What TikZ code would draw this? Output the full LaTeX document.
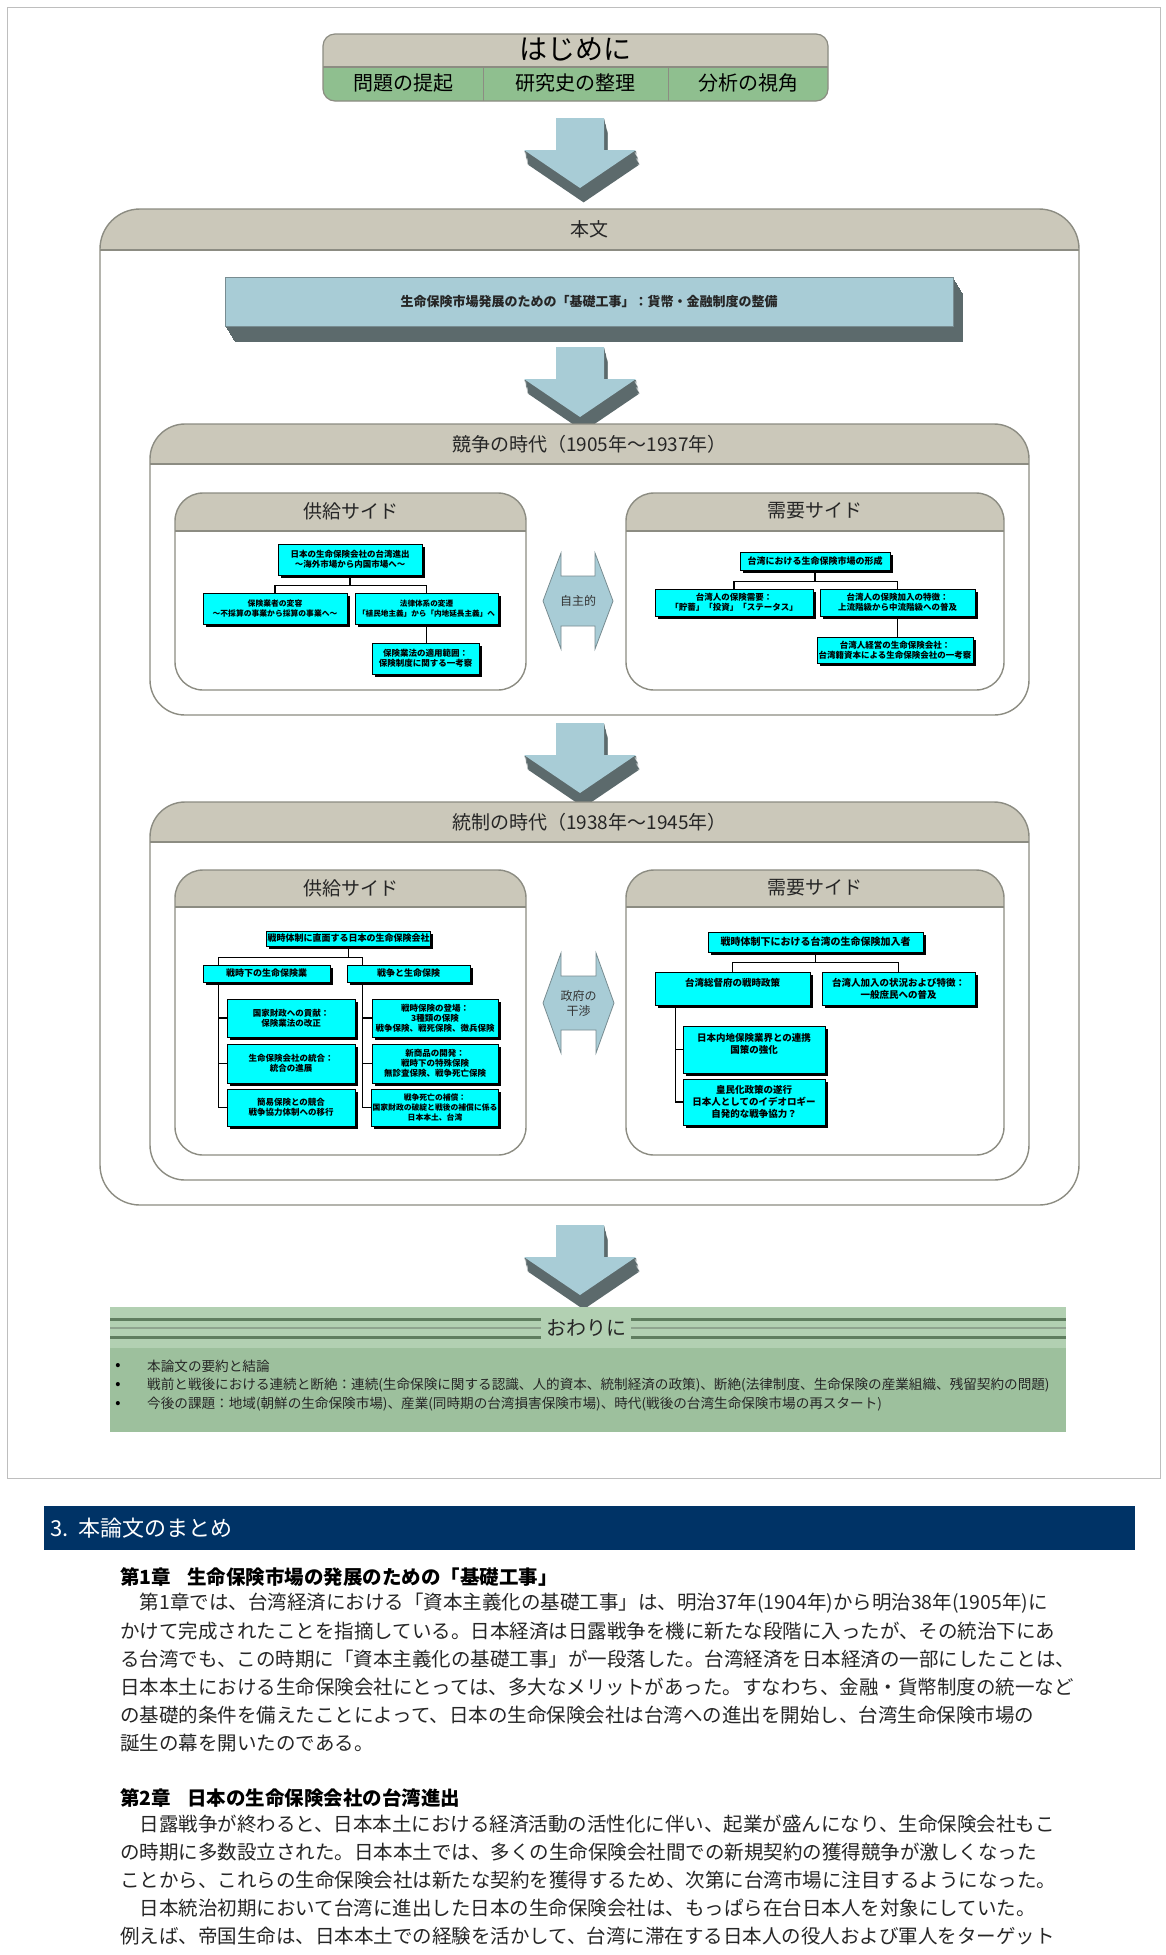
\documentclass[tikz,border=0pt]{standalone}
\usepackage{fontspec}
\setmainfont{Noto Sans CJK JP}
\usetikzlibrary{shadows}
\definecolor{boxgray}{RGB}{140,140,130}
\definecolor{hdrfill}{RGB}{203,200,186}
\definecolor{hajgreen}{RGB}{143,191,143}
\definecolor{arrblue}{RGB}{168,204,214}
\definecolor{arrout}{RGB}{120,140,145}
\definecolor{arrdark}{RGB}{92,106,108}
\definecolor{cyanfill}{RGB}{0,255,255}
\definecolor{owlight}{RGB}{178,208,178}
\definecolor{owgreen}{RGB}{157,192,157}
\definecolor{owline}{RGB}{95,125,95}
\definecolor{navy}{RGB}{0,51,102}
\definecolor{framegray}{RGB}{190,190,190}
\newcommand{\blockarrow}[2]{%
 \begin{scope}[shift={(#1,#2)}]
  \foreach \k in {1,...,12}{%
   \fill[arrdark] ({0.3*\k-24},{1.2*\k}) -- ({0.3*\k+24},{1.2*\k}) -- ({0.3*\k+24},{1.2*\k+32}) -- ({0.3*\k+56},{1.2*\k+32}) -- ({0.3*\k},{1.2*\k+70}) -- ({0.3*\k-56},{1.2*\k+32}) -- ({0.3*\k-24},{1.2*\k+32}) -- cycle;}
  \fill[arrblue] (-24,0) -- (24,0) -- (24,32) -- (56,32) -- (0,70) -- (-56,32) -- (-24,32) -- cycle;
 \end{scope}}
\begin{document}
\begin{tikzpicture}[x=1pt,y=-1pt,
  secbox/.style={draw=boxgray, line width=1.4pt, fill=white, inner sep=0pt},
  hdrband/.style={path picture={
     \fill[hdrfill, sharp corners] (path picture bounding box.north west) rectangle ([yshift=-#1]path picture bounding box.north east);
     \draw[boxgray, line width=1.4pt, sharp corners] ([yshift=-#1]path picture bounding box.north west) -- ([yshift=-#1]path picture bounding box.north east);}},
  hdrtext/.style={font=\fontsize{19}{22}\selectfont, text=black!85, inner sep=0pt},
  cbox/.style={draw=black, line width=1pt, fill=cyanfill, inner sep=1pt, align=center, font=\bfseries\fontsize{8.5}{10}\selectfont, drop shadow={shadow xshift=2.5pt, shadow yshift=-2.5pt, fill=black, opacity=1}},
  conn/.style={draw=black, line width=1.1pt},
  dblarrow/.style={fill=arrblue, draw=arrout, line width=0.8pt},
  bodytext/.style={anchor=west, inner sep=0pt, font=\fontsize{19.5}{22}\selectfont, text=black!85},
  chaphead/.style={anchor=west, inner sep=0pt, font=\bfseries\fontsize{19.5}{22}\selectfont, text=black},
  bullettext/.style={anchor=west, inner sep=0pt, font=\fontsize{13.6}{15}\selectfont, text=black!85},
  bulletdot/.style={inner sep=0pt, font=\bfseries\fontsize{13}{14}\selectfont}
]
\useasboundingbox (0,0) rectangle (1166,1955);
\fill[white] (0,0) rectangle (1166,1955);
\draw[framegray, line width=1pt] (7,7) rectangle (1160,1478);

% はじめに
\node[draw=boxgray, line width=1.2pt, rounded corners=12pt, fill=hajgreen, inner sep=0pt,
      minimum width=505pt, minimum height=67pt, hdrband=33pt] (hajime) at (575.5,67.5) {};
\draw[boxgray, line width=1pt] (483,67) -- (483,101) (668,67) -- (668,101);
\node[inner sep=0pt, font=\fontsize{28}{30}\selectfont] (hajimeT) at (575.5,49) {はじめに};
\node[inner sep=0pt, font=\fontsize{20}{22}\selectfont] (haj1) at (403,83) {問題の提起};
\node[inner sep=0pt, font=\fontsize{20}{22}\selectfont] (haj2) at (575.5,83) {研究史の整理};
\node[inner sep=0pt, font=\fontsize{20}{22}\selectfont] (haj3) at (748,83) {分析の視角};

\blockarrow{580}{118}

% 本文
\node[secbox, rounded corners=40pt, hdrband=41pt, minimum width=979pt, minimum height=996pt] (honbun) at (589.5,707) {};
\node[hdrtext] (honbunT) at (589.5,229) {本文};

% bar
\foreach \k in {1,...,16}{\fill[arrdark] ({225+0.6*\k},{277+\k}) rectangle ({953+0.6*\k},{326+\k});}
\node[fill=arrblue, draw=arrout, line width=0.6pt, minimum width=728pt, minimum height=49pt, inner sep=0pt,
      font=\bfseries\fontsize{13}{15}\selectfont, text=black!85] (kiso) at (589,301.5) {生命保険市場発展のための「基礎工事」：貨幣・金融制度の整備};

\blockarrow{580}{347}

% 競争の時代
\node[secbox, rounded corners=35pt, hdrband=40pt, minimum width=879pt, minimum height=291pt] (kyoso) at (589.5,569.5) {};
\node[hdrtext] (kyosoT) at (589.5,444) {競争の時代（1905年～1937年）};
\node[secbox, rounded corners=28pt, hdrband=38pt, minimum width=351pt, minimum height=197pt] (kyS) at (350.5,591.5) {};
\node[hdrtext] (kySt) at (350.5,511) {供給サイド};
\node[secbox, rounded corners=28pt, hdrband=38pt, minimum width=378pt, minimum height=197pt] (kyD) at (815,591.5) {};
\node[hdrtext] (kyDt) at (815,511) {需要サイド};

% supply (competition)
\node[cbox, minimum width=144pt, minimum height=31pt] (s1top) at (350,559.5) {日本の生命保険会社の台湾進出\\～海外市場から内国市場へ～};
\node[cbox, font=\bfseries\fontsize{7.8}{10}\selectfont, minimum width=144pt, minimum height=31pt] (s1L) at (275,608.5) {保険業者の変容\\～不採算の事業から採算の事業へ～};
\node[cbox, font=\bfseries\fontsize{7.6}{10}\selectfont, minimum width=143pt, minimum height=31pt] (s1R) at (426.5,608.5) {法律体系の変遷\\「植民地主義」から「内地延長主義」へ};
\node[cbox, minimum width=107pt, minimum height=31pt] (s1B) at (425.5,658.5) {保険業法の適用範囲：\\保険制度に関する一考察};
\draw[conn] (s1top.south) -- ++(0,10) -| (s1L.north);
\draw[conn] (s1top.south) -- ++(0,10) -| (s1R.north);
\draw[conn] (s1R.south) -- (s1R.south |- s1B.north);

% demand (competition)
\node[cbox, font=\bfseries\fontsize{9}{10}\selectfont, minimum width=150pt, minimum height=18pt] (d1top) at (815,561) {台湾における生命保険市場の形成};
\node[cbox, minimum width=158pt, minimum height=27pt] (d1L) at (734,602.5) {台湾人の保険需要：\\「貯蓄」「投資」「ステータス」};
\node[cbox, minimum width=155pt, minimum height=27pt] (d1R) at (897.5,602.5) {台湾人の保険加入の特徴：\\上流階級から中流階級への普及};
\node[cbox, minimum width=156pt, minimum height=26pt] (d1B) at (895,650) {台湾人経営の生命保険会社：\\台湾籍資本による生命保険会社の一考察};
\draw[conn] (d1top.south) -- ++(0,11) -| (d1L.north);
\draw[conn] (d1top.south) -- ++(0,11) -| (d1R.north);
\draw[conn] (d1R.south) -- (d1R.south |- d1B.north);

% 自主的
\path[dblarrow] (543,601) -- (561,553) -- (561,576) -- (595,576) -- (595,553) -- (613,601) -- (595,649) -- (595,626) -- (561,626) -- (561,649) -- cycle;
\node[inner sep=0pt, font=\fontsize{12}{14}\selectfont, text=black!80] (jishu) at (578,601) {自主的};

\blockarrow{580}{723}

% 統制の時代
\node[secbox, rounded corners=35pt, hdrband=40pt, minimum width=879pt, minimum height=378pt] (tosei) at (589.5,991) {};
\node[hdrtext] (toseiT) at (589.5,822) {統制の時代（1938年～1945年）};
\node[secbox, rounded corners=28pt, hdrband=37pt, minimum width=351pt, minimum height=285pt] (toS) at (350.5,1012.5) {};
\node[hdrtext] (toSt) at (350.5,888) {供給サイド};
\node[secbox, rounded corners=28pt, hdrband=37pt, minimum width=378pt, minimum height=285pt] (toD) at (815,1012.5) {};
\node[hdrtext] (toDt) at (815,888) {需要サイド};

% supply (control)
\node[cbox, font=\bfseries\fontsize{9}{10}\selectfont, minimum width=163pt, minimum height=15pt] (c2top) at (348.5,938.5) {戦時体制に直面する日本の生命保険会社};
\node[cbox, font=\bfseries\fontsize{9}{10}\selectfont, minimum width=127pt, minimum height=17pt] (c2L) at (266.5,973.5) {戦時下の生命保険業};
\node[cbox, font=\bfseries\fontsize{9}{10}\selectfont, minimum width=123pt, minimum height=17pt] (c2R) at (408.5,973.5) {戦争と生命保険};
\node[cbox, minimum width=128pt, minimum height=38pt] (c2L1) at (291,1018) {国家財政への貢献：\\保険業法の改正};
\node[cbox, minimum width=128pt, minimum height=39pt] (c2L2) at (291,1063.5) {生命保険会社の統合：\\統合の進展};
\node[cbox, minimum width=128pt, minimum height=37pt] (c2L3) at (291,1107.5) {簡易保険との競合\\戦争協力体制への移行};
\node[cbox, minimum width=126pt, minimum height=38pt] (c2R1) at (435,1018) {戦時保険の登場：\\3種類の保険\\戦争保険、戦死保険、徴兵保険};
\node[cbox, minimum width=126pt, minimum height=39pt] (c2R2) at (435,1063.5) {新商品の開発：\\戦時下の特殊保険\\無診査保険、戦争死亡保険};
\node[cbox, font=\bfseries\fontsize{7.8}{10}\selectfont, minimum width=126pt, minimum height=37pt] (c2R3) at (435,1107.5) {戦争死亡の補償：\\国家財政の破綻と戦後の補償に係る\\日本本土、台湾};
\draw[conn] (c2top.south) -- ++(0,11) -| ([xshift=16pt]c2L.north west);
\draw[conn] (c2top.south) -- ++(0,11) -| ([xshift=16pt]c2R.north west);
\draw[conn] ([xshift=16pt]c2L.south west) |- (c2L1.west);
\draw[conn] ([xshift=16pt]c2L.south west) |- (c2L2.west);
\draw[conn] ([xshift=16pt]c2L.south west) |- (c2L3.west);
\draw[conn] ([xshift=16pt]c2R.south west) |- (c2R1.west);
\draw[conn] ([xshift=16pt]c2R.south west) |- (c2R2.west);
\draw[conn] ([xshift=16pt]c2R.south west) |- (c2R3.west);

% demand (control)
\node[cbox, font=\bfseries\fontsize{10}{12}\selectfont, minimum width=215pt, minimum height=20pt] (c3top) at (815.5,942) {戦時体制下における台湾の生命保険加入者};
\node[cbox, font=\bfseries\fontsize{9.5}{12}\selectfont, minimum width=155pt, minimum height=33pt] (c3L) at (732.5,988.5) {台湾総督府の戦時政策\\\mbox{}};
\node[cbox, font=\bfseries\fontsize{9.5}{12}\selectfont, minimum width=153pt, minimum height=33pt] (c3R) at (898.5,988.5) {台湾人加入の状況および特徴：\\一般庶民への普及};
\node[cbox, font=\bfseries\fontsize{9.5}{12}\selectfont, minimum width=142pt, minimum height=47pt] (c3L1) at (754,1049.5) {日本内地保険業界との連携\\国策の強化\\\mbox{}};
\node[cbox, font=\bfseries\fontsize{9.5}{12}\selectfont, minimum width=142pt, minimum height=46pt] (c3L2) at (754,1102) {皇民化政策の遂行\\日本人としてのイデオロギー\\自発的な戦争協力？};
\draw[conn] (c3top.south) -- ++(0,10) -| (c3L.north);
\draw[conn] (c3top.south) -- ++(0,10) -| (c3R.north);
\draw[conn] ([xshift=21pt]c3L.south west) |- (c3L1.west);
\draw[conn] ([xshift=21pt]c3L.south west) |- (c3L2.west);

% 政府の干渉
\path[dblarrow] (543,1003) -- (561,953) -- (561,976) -- (596,976) -- (596,953) -- (614,1003) -- (596,1053) -- (596,1030) -- (561,1030) -- (561,1053) -- cycle;
\node[inner sep=0pt, align=center, font=\fontsize{12}{15}\selectfont, text=black!80] (seifu) at (578.5,1003) {政府の\\干渉};

\blockarrow{580}{1225}

% おわりに
\node[fill=owgreen, inner sep=0pt, minimum width=956pt, minimum height=125pt] (owari) at (588,1369.5) {};
\fill[owlight] (110,1307) rectangle (1066,1348);
\draw[owline, line width=3pt] (110,1319) -- (1066,1319);
\draw[owline!70, line width=2pt] (110,1328) -- (1066,1328);
\draw[owline, line width=3pt] (110,1337) -- (1066,1337);
\node[fill=owlight, inner xsep=5pt, inner ysep=2pt, font=\fontsize{20}{22}\selectfont, text=black!85] (owariT) at (586,1328) {おわりに};
\node[bulletdot] (b1d) at (118,1366) {•};
\node[bulletdot] (b2d) at (118,1385) {•};
\node[bulletdot] (b3d) at (118,1404) {•};
\node[bullettext] (b1) at (147,1366) {本論文の要約と結論};
\node[bullettext] (b2) at (147,1385) {戦前と戦後における連続と断絶：連続(生命保険に関する認識、人的資本、統制経済の政策)、断絶(法律制度、生命保険の産業組織、残留契約の問題)};
\node[bullettext] (b3) at (147,1404) {今後の課題：地域(朝鮮の生命保険市場)、産業(同時期の台湾損害保険市場)、時代(戦後の台湾生命保険市場の再スタート)};

% Section 3
\node[fill=navy, inner sep=0pt, minimum width=1091pt, minimum height=44pt] (secbar) at (589.5,1528) {};
\node[anchor=west, inner sep=0pt, text=white, font=\fontsize{22}{24}\selectfont] (secT) at (50,1528) {3.\hspace{10pt}本論文のまとめ};

\node[chaphead] (ch1) at (120,1577) {第1章\hspace{16pt}生命保険市場の発展のための「基礎工事」};
\node[bodytext] (p1a) at (120,1603) {　第1章では、台湾経済における「資本主義化の基礎工事」は、明治37年(1904年)から明治38年(1905年)に};
\node[bodytext] (p1b) at (120,1631) {かけて完成されたことを指摘している。日本経済は日露戦争を機に新たな段階に入ったが、その統治下にあ};
\node[bodytext] (p1c) at (120,1659) {る台湾でも、この時期に「資本主義化の基礎工事」が一段落した。台湾経済を日本経済の一部にしたことは、};
\node[bodytext] (p1d) at (120,1687) {日本本土における生命保険会社にとっては、多大なメリットがあった。すなわち、金融・貨幣制度の統一など};
\node[bodytext] (p1e) at (120,1715) {の基礎的条件を備えたことによって、日本の生命保険会社は台湾への進出を開始し、台湾生命保険市場の};
\node[bodytext] (p1f) at (120,1743) {誕生の幕を開いたのである。};

\node[chaphead] (ch2) at (120,1798) {第2章\hspace{16pt}日本の生命保険会社の台湾進出};
\node[bodytext] (p2a) at (120,1824) {　日露戦争が終わると、日本本土における経済活動の活性化に伴い、起業が盛んになり、生命保険会社もこ};
\node[bodytext] (p2b) at (120,1852) {の時期に多数設立された。日本本土では、多くの生命保険会社間での新規契約の獲得競争が激しくなった};
\node[bodytext] (p2c) at (120,1880) {ことから、これらの生命保険会社は新たな契約を獲得するため、次第に台湾市場に注目するようになった。};
\node[bodytext] (p2d) at (120,1908) {　日本統治初期において台湾に進出した日本の生命保険会社は、もっぱら在台日本人を対象にしていた。};
\node[bodytext] (p2e) at (120,1936) {例えば、帝国生命は、日本本土での経験を活かして、台湾に滞在する日本人の役人および軍人をターゲット};
\end{tikzpicture}
\end{document}
